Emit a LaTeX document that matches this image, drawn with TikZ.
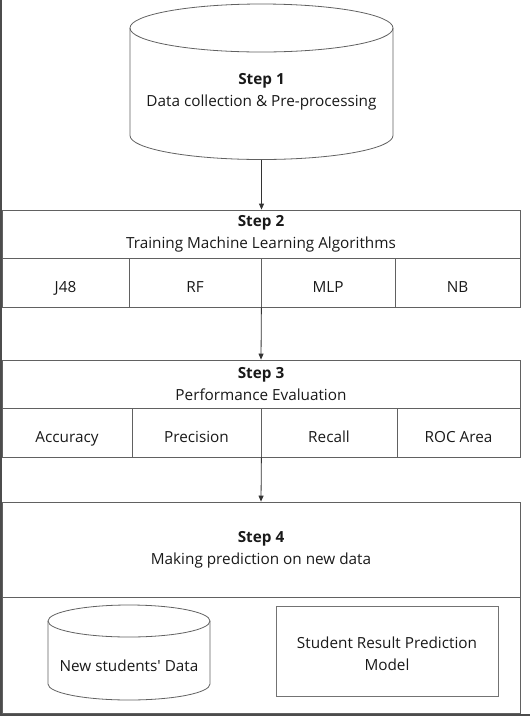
\documentclass[tikz,border=0pt]{standalone}
\usepackage{fontspec}
\setmainfont{Open Sans}
\usetikzlibrary{arrows.meta,positioning}

% data store outline: centre x, top ellipse centre y, lower side end y, x radius, y radius
\newcommand\dbdraw[5]{%
  \draw[dbline] (#1,#2) ellipse[x radius=#4pt,y radius=#5pt];
  \draw[dbline] ({#1-#4},#2) -- ({#1-#4},#3)
    arc[start angle=180,end angle=360,x radius=#4pt,y radius=#5pt] -- ({#1+#4},#2);}

\begin{document}
\begin{tikzpicture}[
  x=1pt,y=-1pt,
  font=\fontsize{15.3}{22}\selectfont,
  >={Triangle[length=6pt,width=5pt]},
  dbline/.style={draw=black!62,line width=.8pt},
  hdr/.style={draw=black!62,line width=.8pt,minimum width=518pt,align=center,inner sep=0pt,text=black!90},
  cell/.style={draw=black!62,line width=.8pt,minimum height=49pt,inner sep=0pt,text height=19pt,text depth=0pt,text=black!90},
  flow/.style={->,line width=.8pt,black!80}
]
\useasboundingbox (0,0) rectangle (530,716);

% Step 1: data store
\dbdraw{261.5}{28}{135.5}{131.5}{24}
\node[minimum width=263pt,minimum height=155.5pt,inner sep=0pt] (s1) at (261.5,81.75) {};
\node[align=center,text=black!90] (s1txt) at (261.5,91.5) {\textbf{Step 1}\\Data collection \& Pre-processing};

% Step 2: training, four algorithms
\node[hdr,minimum height=48pt] (s2) at (261,234) {\textbf{Step 2}\\Training Machine Learning Algorithms};
\node[cell,minimum width=127pt] (j48) at (65.5,282.5) {J48};
\node[cell,minimum width=132pt] (rf) at (195,282.5) {RF};
\node[cell,minimum width=134pt] (mlp) at (328,282.5) {MLP};
\node[cell,minimum width=125pt] (nb) at (457.5,282.5) {NB};

% Step 3: evaluation measures
\node[hdr,minimum height=48pt] (s3) at (261,384) {\textbf{Step 3}\\Performance Evaluation};
\node[cell,minimum width=130pt] (acc) at (67,432.5) {Accuracy};
\node[cell,minimum width=129pt] (prec) at (196.5,432.5) {Precision};
\node[cell,minimum width=136pt] (rec) at (329,432.5) {Recall};
\node[cell,minimum width=123pt] (roc) at (458.5,432.5) {ROC Area};

% Step 4: prediction
\node[hdr,minimum height=95pt] (s4) at (261,549.5) {\raisebox{5pt}{\begin{tabular}{@{}c@{}}\textbf{Step 4}\\Making prediction on new data\end{tabular}}};
\node[hdr,minimum height=116pt] (s4low) at (261,655) {};
\dbdraw{129}{621}{684}{81}{16}
\node[minimum width=162pt,minimum height=95pt,inner sep=0pt] (newdata) at (129,652.5) {};
\node[text=black!90] (newtxt) at (129,666) {New students\textquotesingle{} Data};
\node[draw=black!55,line width=.9pt,minimum width=222pt,minimum height=90pt,align=center,text=black!90] (model) at (387,651) {};
\node[align=center,text=black!90] (modeltxt) at (387,653.5) {Student Result Prediction\\Model};

\draw[flow] (s1.south) -- (s1.south |- s2.north);
\draw[flow] (rf.south east) -- (s3.north);
\draw[flow] (prec.south east) -- (s4.north);

% frame
\draw[black!70,line width=1.4pt] (1,0) -- (1,715) -- (530,715);
\end{tikzpicture}
\end{document}
